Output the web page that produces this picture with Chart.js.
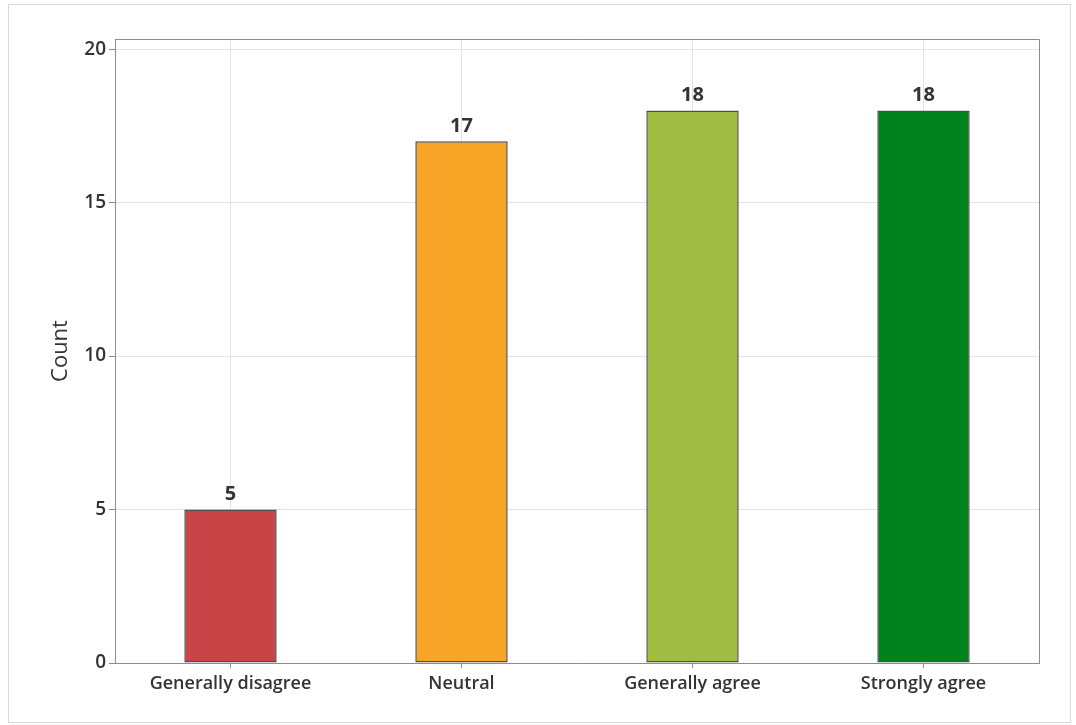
<!DOCTYPE html>
<html>
<head>
<meta charset="utf-8">
<script src="https://cdn.jsdelivr.net/npm/chart.js@4/dist/chart.umd.min.js"></script>
<style>
  html, body { margin: 0; padding: 0; background: #fff; }
  #wrap { width: 1076px; height: 725px; position: relative; }
</style>
</head>
<body>
<div id="wrap"><canvas id="c" width="1076" height="725"></canvas></div>
<script>
// Survey responses
const categories = ["Generally disagree", "Neutral", "Generally agree", "Strongly agree"];
const counts = [5, 17, 18, 18];
const barColors = ["#C84446", "#F7A526", "#A0BC43", "#00821F"];
const yTicks = [0, 5, 10, 15, 20];

const FONT = "'Open Sans', 'Noto Sans', sans-serif";
const TEXT = "#333333";

// Outer panel border, frame around the plot area, and value labels over bars
const decorations = {
  id: 'decorations',
  beforeDraw(chart) {
    const ctx = chart.ctx;
    ctx.save();
    ctx.fillStyle = '#ffffff';
    ctx.fillRect(0, 0, chart.width, chart.height);
    ctx.strokeStyle = '#d9d9d9';
    ctx.lineWidth = 1;
    ctx.strokeRect(8.5, 4.5, 1062, 718);
    ctx.restore();
  },
  afterDatasetsDraw(chart) {
    const ctx = chart.ctx;
    const a = chart.chartArea;
    ctx.save();
    ctx.strokeStyle = '#8c8c8c';
    ctx.lineWidth = 1;
    ctx.beginPath();
    ctx.moveTo(Math.round(a.left) + 0.5, Math.round(a.top) + 0.5);
    ctx.lineTo(Math.round(a.right) + 0.5, Math.round(a.top) + 0.5);
    ctx.lineTo(Math.round(a.right) + 0.5, Math.round(a.bottom) + 0.5);
    ctx.stroke();

    const meta = chart.getDatasetMeta(0);
    ctx.fillStyle = TEXT;
    ctx.font = "bold 20px " + FONT;
    ctx.textAlign = 'center';
    ctx.textBaseline = 'bottom';
    meta.data.forEach((bar, i) => {
      ctx.fillText(String(counts[i]), bar.x, bar.y - 5);
    });
    ctx.restore();
  }
};

new Chart(document.getElementById('c'), {
  type: 'bar',
  data: {
    labels: categories,
    datasets: [{
      data: counts,
      backgroundColor: barColors,
      borderColor: '#4d4d4d',
      borderWidth: 1.5,
      borderSkipped: false,
      barPercentage: 0.4,
      categoryPercentage: 1.0
    }]
  },
  options: {
    responsive: false,
    animation: false,
    devicePixelRatio: 1,
    layout: { padding: { left: 0, right: 37, top: 39, bottom: 0 } },
    plugins: {
      legend: { display: false },
      tooltip: { enabled: false }
    },
    scales: {
      x: {
        offset: true,
        afterFit(s) { s.height = 62; },
        grid: {
          offset: false,
          color: '#e3e3e3',
          tickColor: '#8c8c8c',
          tickLength: 5,
          drawTicks: true
        },
        border: { display: true, color: '#8c8c8c' },
        ticks: {
          color: TEXT,
          font: { family: FONT, size: 18, weight: '600' },
          padding: 5,
          maxRotation: 0
        }
      },
      y: {
        min: 0,
        max: 20.33,
        afterFit(s) { s.width = 115; },
        afterBuildTicks(s) { s.ticks = yTicks.map(v => ({ value: v })); },
        grid: {
          color: '#e3e3e3',
          tickColor: '#8c8c8c',
          tickLength: 6
        },
        border: { display: true, color: '#8c8c8c' },
        ticks: {
          color: TEXT,
          font: { family: FONT, size: 19, weight: '600' },
          padding: 3
        },
        title: {
          display: true,
          text: 'Count',
          color: TEXT,
          font: { family: FONT, size: 22, weight: 'normal' },
          padding: { top: 48, bottom: 0 }
        }
      }
    }
  },
  plugins: [decorations]
});
</script>
</body>
</html>
